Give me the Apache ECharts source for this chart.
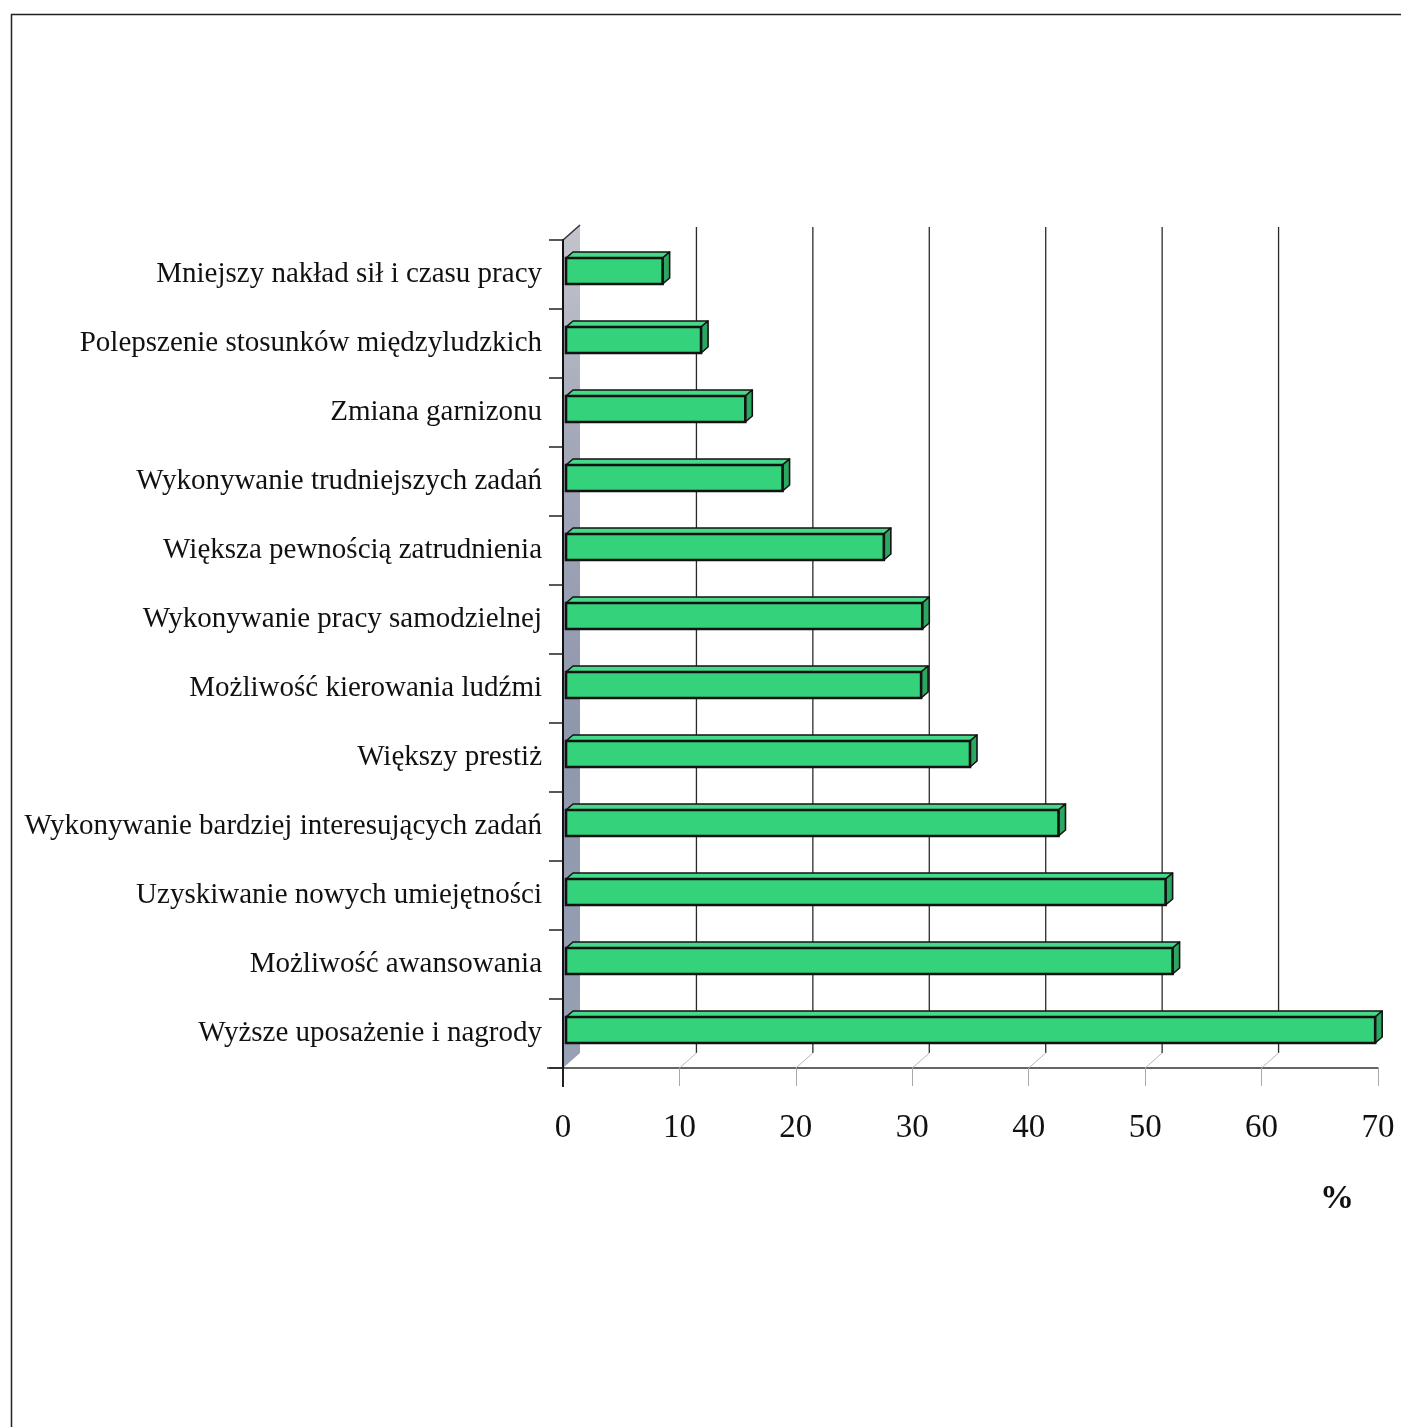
<!DOCTYPE html>
<html>
<head>
<meta charset="utf-8">
<script src="https://cdn.jsdelivr.net/npm/echarts@6/dist/echarts.min.js"></script>
<style>
  html, body { margin: 0; padding: 0; background: #ffffff; }
  #chart { width: 1401px; height: 1427px; }
</style>
</head>
<body>
<div id="chart"></div>
<script>
// Motivations, top to bottom
const categories = [
  'Mniejszy nakład sił i czasu pracy',
  'Polepszenie stosunków międzyludzkich',
  'Zmiana garnizonu',
  'Wykonywanie trudniejszych zadań',
  'Większa pewnością zatrudnienia',
  'Wykonywanie pracy samodzielnej',
  'Możliwość kierowania ludźmi',
  'Większy prestiż',
  'Wykonywanie bardziej interesujących zadań',
  'Uzyskiwanie nowych umiejętności',
  'Możliwość awansowania',
  'Wyższe uposażenie i nagrody'
];
// Share of answers, %
const values = [8.3, 11.6, 15.4, 18.6, 27.3, 30.6, 30.5, 34.7, 42.3, 51.5, 52.1, 69.5];
// Value axis ticks
const xTicks = [0, 10, 20, 30, 40, 50, 60, 70];
const unitLabel = '%';

const FONT = "'Liberation Serif', 'Times New Roman', serif";

// pseudo-3D depth of the chart box and of the bars
const WALL_DX = 17, WALL_DY = -15;
const BAR_DX = 7, BAR_DY = -6;
const BAR_OFF_X = 3, BAR_OFF_Y = -3.5, BAR_H = 26;

const GREEN_FRONT = '#34d27b';
const GREEN_TOP = '#45d989';
const GREEN_SIDE = '#2aa862';
const OUTLINE = '#121212';

const xMin = xTicks[0];
const xMax = xTicks[xTicks.length - 1];

// walls, floor and back gridlines, one element group per tick value
function renderBackdrop(params, api) {
  const v = api.value(0);
  const cs = params.coordSys;
  const top = cs.y, bottom = cs.y + cs.height;
  const x = api.coord([v, 0])[0];
  const children = [];

  if (v === xMin) {
    // left side wall
    children.push({
      type: 'polygon',
      shape: { points: [[x, top], [x + WALL_DX, top + WALL_DY], [x + WALL_DX, bottom + WALL_DY], [x, bottom]] },
      style: {
        fill: new echarts.graphic.LinearGradient(0, 0, 0, 1, [
          { offset: 0, color: '#c3c5cc' },
          { offset: 0.25, color: '#a4a9b9' },
          { offset: 0.6, color: '#8f97ad' },
          { offset: 1, color: '#98a0b4' }
        ]),
        stroke: null
      },
      z2: 0
    });
    // top edge of the wall
    children.push({
      type: 'line',
      shape: { x1: x, y1: top, x2: x + WALL_DX, y2: top + WALL_DY },
      style: { stroke: '#333', lineWidth: 1.5 },
      z2: 2
    });
    // front floor edge continuing left past the wall
    children.push({
      type: 'line',
      shape: { x1: x - 16, y1: bottom, x2: x, y2: bottom },
      style: { stroke: '#333', lineWidth: 1.5 },
      z2: 2
    });
    // corner tick below the floor
    children.push({
      type: 'line',
      shape: { x1: x, y1: bottom, x2: x, y2: bottom + 19 },
      style: { stroke: '#222', lineWidth: 2 },
      z2: 2
    });
  } else if (v !== xMax) {
    // gridline on the back wall
    children.push({
      type: 'line',
      shape: { x1: x + WALL_DX, y1: top + WALL_DY + 2, x2: x + WALL_DX, y2: bottom + WALL_DY },
      style: { stroke: '#2a2a2a', lineWidth: 1.3 },
      z2: 1
    });
    // floor diagonal from the front tick to the back wall
    children.push({
      type: 'line',
      shape: { x1: x, y1: bottom, x2: x + WALL_DX, y2: bottom + WALL_DY },
      style: { stroke: '#b8b8b8', lineWidth: 1 },
      z2: 1
    });
  }
  return { type: 'group', children: children };
}

// box-shaped bar: front face, top face and right side face
function renderBar(params, api) {
  const v = api.value(0);
  const idx = api.value(1);
  const p0 = api.coord([0, idx]);
  const p1 = api.coord([v, idx]);
  const x0 = p0[0] + BAR_OFF_X;
  const x1 = p1[0] + BAR_OFF_X;
  const cy = p0[1] + BAR_OFF_Y;
  const top = cy - BAR_H / 2;
  const bot = cy + BAR_H / 2;
  return {
    type: 'group',
    children: [
      {
        type: 'polygon',
        shape: { points: [[x0, top], [x0 + BAR_DX, top + BAR_DY], [x1 + BAR_DX, top + BAR_DY], [x1, top]] },
        style: { fill: GREEN_TOP, stroke: OUTLINE, lineWidth: 1.6, lineJoin: 'round' }
      },
      {
        type: 'polygon',
        shape: { points: [[x1, top], [x1 + BAR_DX, top + BAR_DY], [x1 + BAR_DX, bot + BAR_DY], [x1, bot]] },
        style: { fill: GREEN_SIDE, stroke: OUTLINE, lineWidth: 1.6, lineJoin: 'round' }
      },
      {
        type: 'rect',
        shape: { x: x0, y: top, width: x1 - x0, height: BAR_H },
        style: { fill: GREEN_FRONT, stroke: OUTLINE, lineWidth: 2.6 }
      }
    ]
  };
}

const chart = echarts.init(document.getElementById('chart'), null, { renderer: 'canvas' });

chart.setOption({
  animation: false,
  backgroundColor: '#ffffff',
  grid: { left: 563, top: 240, width: 815, height: 828, containLabel: false },
  xAxis: {
    type: 'value',
    min: xMin,
    max: xMax,
    interval: 10,
    axisLine: { show: true, lineStyle: { color: '#333', width: 1.5 } },
    axisTick: { show: true, length: 18, lineStyle: { color: '#a8a8a8', width: 1 } },
    splitLine: { show: false },
    axisLabel: {
      margin: 44,
      color: '#111',
      fontFamily: FONT,
      fontSize: 33,
      verticalAlign: 'top'
    }
  },
  yAxis: {
    type: 'category',
    inverse: true,
    data: categories,
    axisLine: { show: true, lineStyle: { color: '#111', width: 2 } },
    axisTick: { show: true, length: 14, lineStyle: { color: '#222', width: 1.5 } },
    splitLine: { show: false },
    axisLabel: {
      margin: 21,
      color: '#111',
      fontFamily: FONT,
      fontSize: 29,
      padding: [8, 0, 0, 0]
    },
    z: 3
  },
  graphic: [
    {
      type: 'rect',
      left: 9, top: 12,
      shape: { width: 1420, height: 1440 },
      style: { fill: null, stroke: '#222', lineWidth: 1.5 },
      z: -10,
      silent: true
    },
    {
      type: 'text',
      left: 1320, top: 1182,
      style: { text: unitLabel, fill: '#111', font: 'bold 34px ' + FONT },
      silent: true
    }
  ],
  series: [
    {
      type: 'custom',
      name: 'backdrop',
      coordinateSystem: 'cartesian2d',
      data: xTicks.map(function (t) { return [t, 0]; }),
      encode: { x: 0, y: 1 },
      renderItem: renderBackdrop,
      silent: true,
      z: 1
    },
    {
      type: 'custom',
      name: 'Odpowiedzi',
      coordinateSystem: 'cartesian2d',
      data: values.map(function (v, i) { return [v, i]; }),
      encode: { x: 0, y: 1 },
      renderItem: renderBar,
      z: 5
    }
  ]
});
</script>
</body>
</html>
